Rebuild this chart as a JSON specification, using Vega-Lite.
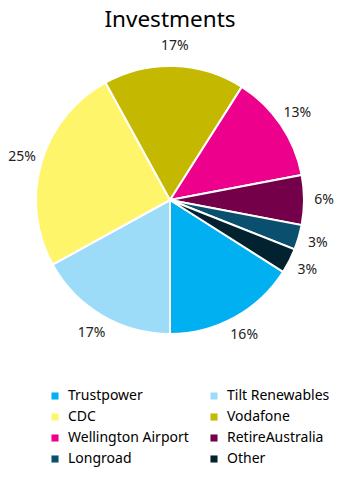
{
  "$schema": "https://vega.github.io/schema/vega-lite/v6.json",
  "width": 268,
  "height": 268,
  "autosize": {"type": "none"},
  "padding": {"left": 36, "top": 66, "right": 49, "bottom": 153},
  "background": "white",
  "title": {"text": "Investments", "font": "Noto Sans", "fontSize": 22.5, "fontWeight": "normal", "color": "#000000", "anchor": "middle", "frame": "group", "offset": 8},
  "config": {"view": {"stroke": null}},
  "data": {"values": [
    {"name": "Trustpower", "share": 0.16, "order": 1},
    {"name": "Tilt Renewables", "share": 0.17, "order": 2},
    {"name": "CDC", "share": 0.25, "order": 3},
    {"name": "Vodafone", "share": 0.17, "order": 4},
    {"name": "Wellington Airport", "share": 0.13, "order": 5},
    {"name": "RetireAustralia", "share": 0.06, "order": 6},
    {"name": "Longroad", "share": 0.03, "order": 7},
    {"name": "Other", "share": 0.03, "order": 8}
  ]},
  "encoding": {
    "theta": {"field": "share", "type": "quantitative", "stack": true, "scale": {"range": [2.1363, 8.4195]}},
    "order": {"field": "order", "type": "quantitative"},
    "color": {
      "field": "name", "type": "nominal",
      "scale": {
        "domain": ["Trustpower", "Tilt Renewables", "CDC", "Vodafone", "Wellington Airport", "RetireAustralia", "Longroad", "Other"],
        "range": ["#00B0F0", "#9DDCF9", "#FFF56B", "#C4B800", "#EC008C", "#75004A", "#0B4F6E", "#022230"]
      },
      "legend": {
        "orient": "none", "legendX": 12, "legendY": 323, "columns": 2, "direction": "horizontal",
        "title": null, "symbolType": "square", "symbolSize": 50, "symbolStrokeWidth": 0,
        "labelFont": "Noto Sans", "labelFontSize": 14, "labelColor": "#000000", "labelOffset": 6, "labelLimit": 200,
        "rowPadding": 7, "columnPadding": 18
      }
    }
  },
  "layer": [
    {"mark": {"type": "arc", "outerRadius": 134, "stroke": "white", "strokeWidth": 2}},
    {
      "mark": {"type": "text", "radius": 154, "font": "Noto Sans", "fontSize": 14, "color": "#222222"},
      "encoding": {"text": {"field": "share", "type": "quantitative", "format": ".0%"}, "color": {"value": "#222222"}}
    }
  ]
}
